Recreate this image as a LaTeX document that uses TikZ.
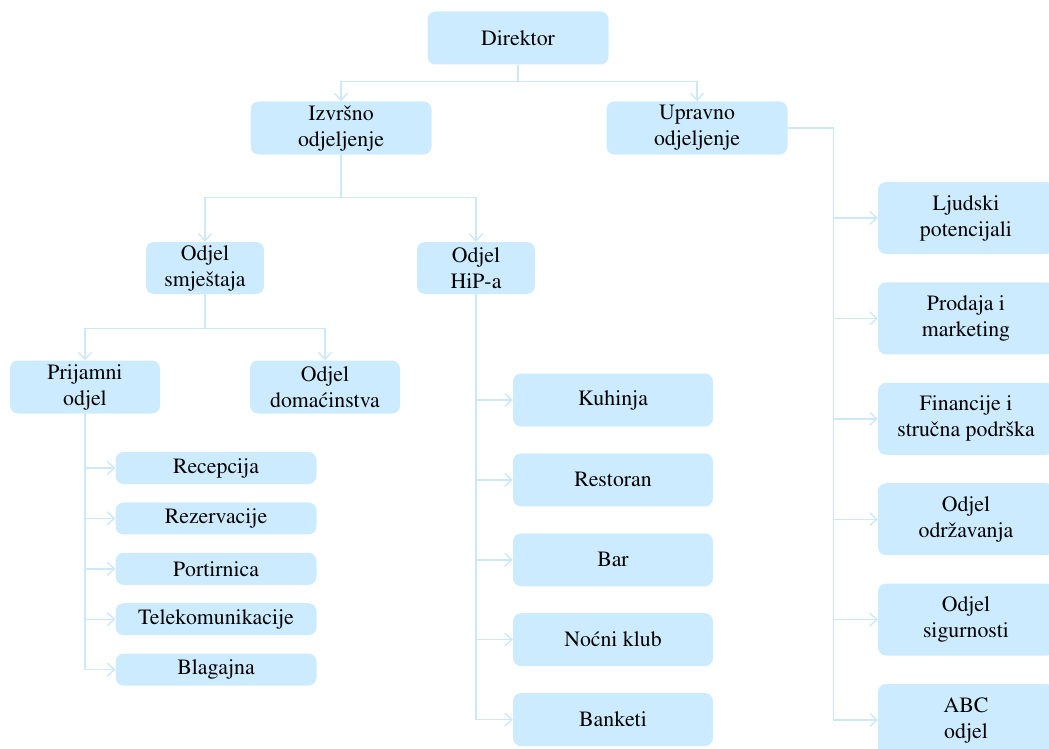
\documentclass[tikz,border=0pt]{standalone}
\usepackage[T1]{fontenc}
\usepackage{times}
\usetikzlibrary{arrows.meta,positioning}
\definecolor{boxblue}{RGB}{204,235,255}
\definecolor{lineblue}{RGB}{204,232,250}
\tikzset{
>={Straight Barb[length=7pt,width=13pt]},
  unit/.style={
    rectangle,
    rounded corners=8pt,
    fill=boxblue,
    draw=none,
    % text=black!85,
    align=center,
    inner sep=0pt,
    font=\rmfamily\fontsize{21.8}{26}\selectfont},
  bigbox/.style={unit, minimum width=181pt, minimum height=53pt},
  midbox/.style={unit, minimum width=118pt, minimum height=52pt},
  widebox/.style={unit, minimum width=150pt, minimum height=53pt},
  smallbox/.style={unit, minimum width=201pt, minimum height=32pt},
  hipbox/.style={unit, minimum width=200pt, minimum height=53pt},
  sidebox/.style={unit, minimum width=176pt, minimum height=72pt},
  line/.style={draw=lineblue, line width=1.4pt},
  arrline/.style={line, ->},
}

\begin{document}
\begin{tikzpicture}[x=1pt,y=-1pt]
\useasboundingbox (0,0) rectangle (1049,749);

% top levels
\node[bigbox] (Direktor) at (518,38) {Direktor};
\node[bigbox] (Izvrsno) at (341,128) {Izvr\v{s}no\\odjeljenje};
\node[bigbox] (Upravno) at (697,128) {Upravno\\odjeljenje};
\node[midbox] (Smjestaj) at (205,268) {Odjel\\smje\v{s}taja};
\node[midbox] (Hipa) at (476,268) {Odjel\\HiP-a};
\node[widebox] (Prijamni) at (85,387) {Prijamni\\odjel};
\node[widebox] (Domacinstvo) at (325,387) {Odjel\\doma\'cinstva};

% prijamni odjel
\node[smallbox] (Recepcija) at (216,468) {Recepcija};
\node[smallbox, below=18pt of Recepcija] (Rezervacije) {Rezervacije};
\node[smallbox, below=18pt of Rezervacije] (Portirnica) {Portirnica};
\node[smallbox, below=18pt of Portirnica] (Telekom) {Telekomunikacije};
\node[smallbox, below=18pt of Telekom] (Blagajna) {Blagajna};

% odjel HiP-a
\node[hipbox] (Kuhinja) at (613,400) {Kuhinja};
\node[hipbox, below=26.5pt of Kuhinja] (Restoran) {Restoran};
\node[hipbox, below=26.5pt of Restoran] (Bar) {Bar};
\node[hipbox, below=26.5pt of Bar] (Klub) {No\'cni klub};
\node[hipbox, below=26.5pt of Klub] (Banketi) {Banketi};

% upravno odjeljenje
\node[sidebox] (Ljudski) at (966,218) {Ljudski\\potencijali};
\node[sidebox, below=28pt of Ljudski] (Prodaja) {Prodaja i\\marketing};
\node[sidebox, below=28pt of Prodaja] (Financije) {Financije i\\stru\v{c}na podr\v{s}ka};
\node[sidebox, below=28pt of Financije] (Odrzavanje) {Odjel\\odr\v{z}avanja};
\node[sidebox, below=28pt of Odrzavanje] (Sigurnost) {Odjel\\sigurnosti};
\node[sidebox, below=28pt of Sigurnost] (ABC) {ABC\\odjel};

% connectors
\draw[arrline] (Direktor.south) -- ++(0,17) -| (Izvrsno.north);
\draw[arrline] (Direktor.south) -- ++(0,17) -| (Upravno.north);
\draw[arrline] (Izvrsno.south) -- ++(0,43) -| (Smjestaj.north);
\draw[arrline] (Izvrsno.south) -- ++(0,43) -| (Hipa.north);
\draw[arrline] (Smjestaj.south) -- ++(0,34) -| (Prijamni.north);
\draw[arrline] (Smjestaj.south) -- ++(0,34) -| (Domacinstvo.north);
\foreach \n in {Recepcija,Rezervacije,Portirnica,Telekom,Blagajna}
  \draw[arrline] (Prijamni.south) |- (\n.west);
\foreach \n in {Kuhinja,Restoran,Bar,Klub,Banketi}
  \draw[arrline] (Hipa.south) |- (\n.west);
\foreach \n in {Ljudski,Prodaja,Financije,Odrzavanje,Sigurnost,ABC}
  \draw[arrline] (Upravno.east) -- ++(46,0) |- (\n.west);

\end{tikzpicture}
\end{document}
